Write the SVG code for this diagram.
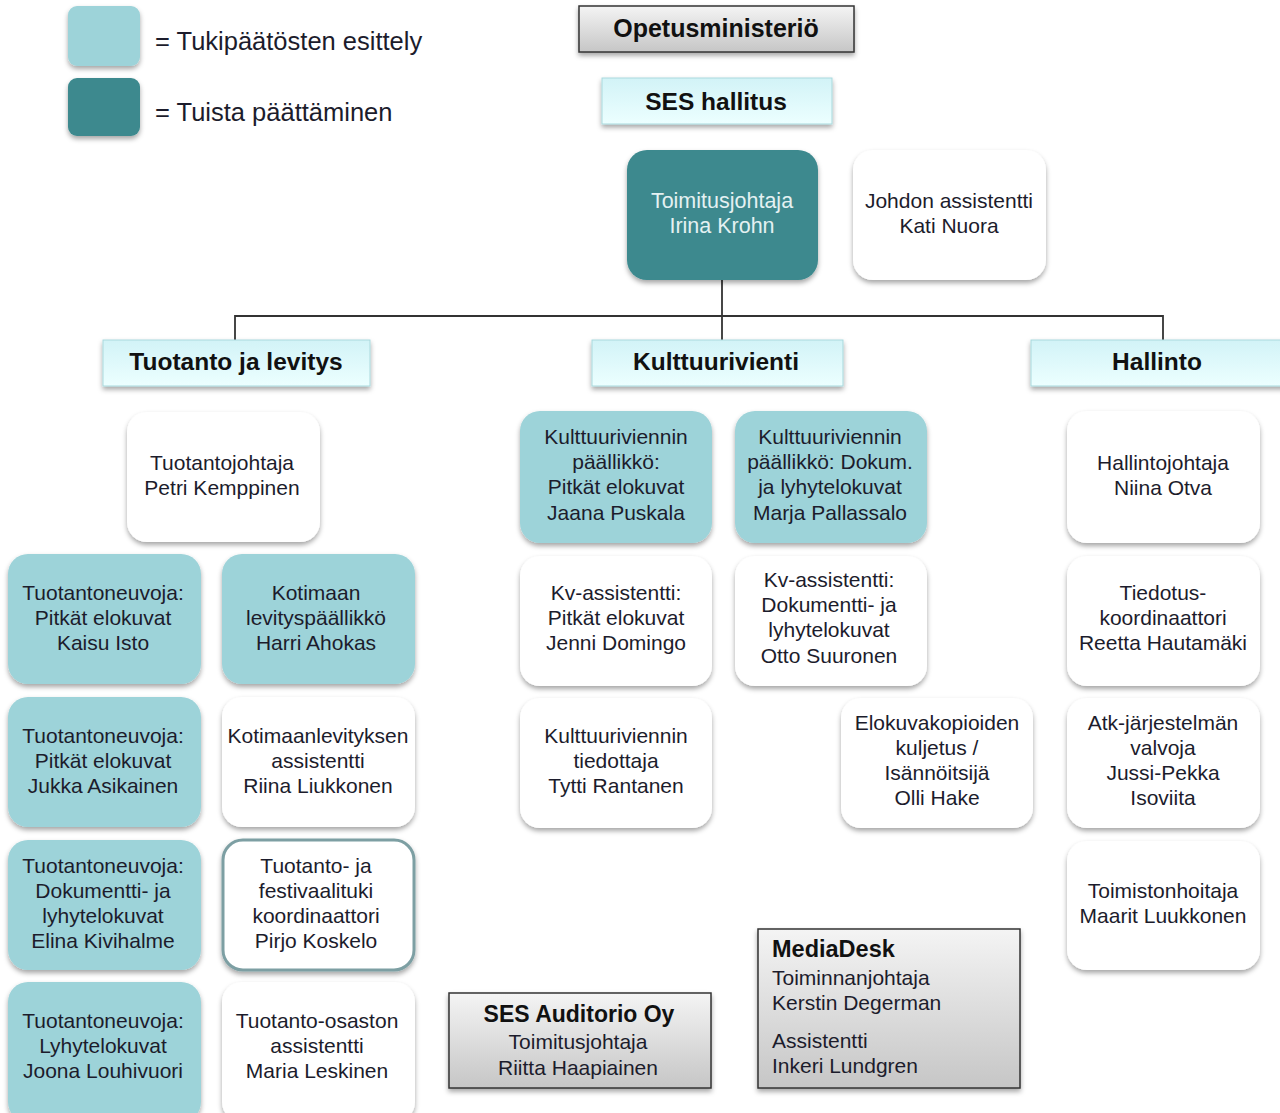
<svg xmlns="http://www.w3.org/2000/svg" width="1280" height="1113" viewBox="0 0 1280 1113">
<defs>
<filter id="sh" x="-10%" y="-10%" width="125%" height="130%">
<feDropShadow dx="0" dy="3" stdDeviation="2.5" flood-color="#000" flood-opacity="0.35"/>
</filter>
<linearGradient id="gray" x1="0" y1="0" x2="0" y2="1">
<stop offset="0" stop-color="#f4f4f4"/>
<stop offset="1" stop-color="#c6c6c6"/>
</linearGradient>
<linearGradient id="cyan" x1="0" y1="0" x2="0" y2="1">
<stop offset="0" stop-color="#d2f3f7"/>
<stop offset="1" stop-color="#ecffff"/>
</linearGradient>
</defs>
<style>
text{font-family:"Liberation Sans",Arial,sans-serif;fill:#1c1c2c}
.t{font-size:21px;text-anchor:middle}
.h{font-size:24.5px;font-weight:bold;text-anchor:middle;fill:#111}
.lg{font-size:25.5px}
.light{fill:#9dd3d9}
.dark{fill:#3c898e}
.white{fill:#fff}
.box{filter:url(#sh)}
.gbox{fill:url(#gray);stroke:#333;stroke-width:1.5}
.cbox{fill:url(#cyan);stroke:#a9d9dd;stroke-width:1}
.inv{fill:#e4f1f2;font-size:21.5px}
.md{font-size:21px}
.conn{fill:none;stroke:#333;stroke-width:1.8}
</style>
<rect width="1280" height="1113" fill="#fff"/>

<g id="legend">
<rect class="box light" x="68" y="6" width="72" height="60" rx="9"/>
<rect class="box dark" x="68" y="78" width="72" height="58" rx="9"/>
<text class="lg" x="155" y="50">= Tukipäätösten esittely</text>
<text class="lg" x="155" y="121">= Tuista päättäminen</text>
</g>

<g id="connectors">
<path class="conn" d="M722 280V316M235 340V316H1163V340M722 316V340"/>
</g>

<g id="opetusministerio">
<rect class="box gbox" x="579" y="6" width="275" height="46"/>
<text class="h" x="716" y="37" style="font-size:25px">Opetusministeriö</text>
</g>
<g id="ses-hallitus">
<rect class="box cbox" x="602" y="78" width="230" height="46"/>
<text class="h" x="716" y="110">SES hallitus</text>
</g>

<g id="toimitusjohtaja">
<rect class="box dark" x="627" y="150" width="191" height="130" rx="20"/>
<text class="t inv" x="722" y="208">Toimitusjohtaja</text>
<text class="t inv" x="722" y="233">Irina Krohn</text>
</g>
<g id="johdon-assistentti">
<rect class="box white" x="853" y="150" width="193" height="130" rx="20"/>
<text class="t" x="949" y="208">Johdon assistentti</text>
<text class="t" x="949" y="233">Kati Nuora</text>
</g>

<g id="tuotanto-ja-levitys">
<rect class="box cbox" x="103" y="340" width="267" height="46"/>
<text class="h" x="236" y="370">Tuotanto ja levitys</text>
</g>
<g id="kulttuurivienti">
<rect class="box cbox" x="592" y="340" width="251" height="46"/>
<text class="h" x="716" y="370">Kulttuurivienti</text>
</g>
<g id="hallinto">
<rect class="box cbox" x="1031" y="340" width="260" height="46"/>
<text class="h" x="1157" y="370">Hallinto</text>
</g>

<g id="tuotantojohtaja">
<rect class="box white" x="127" y="412" width="193" height="130" rx="20"/>
<text class="t" x="222" y="470">Tuotantojohtaja</text>
<text class="t" x="222" y="495">Petri Kemppinen</text>
</g>

<g id="kaisu-isto">
<rect class="box light" x="8" y="554" width="193" height="130" rx="20"/>
<text class="t" x="103" y="600">Tuotantoneuvoja:</text>
<text class="t" x="103" y="625">Pitkät elokuvat</text>
<text class="t" x="103" y="650">Kaisu Isto</text>
</g>
<g id="jukka-asikainen">
<rect class="box light" x="8" y="697" width="193" height="130" rx="20"/>
<text class="t" x="103" y="743">Tuotantoneuvoja:</text>
<text class="t" x="103" y="768">Pitkät elokuvat</text>
<text class="t" x="103" y="793">Jukka Asikainen</text>
</g>
<g id="elina-kivihalme">
<rect class="box light" x="8" y="840" width="193" height="130" rx="20"/>
<text class="t" x="103" y="873">Tuotantoneuvoja:</text>
<text class="t" x="103" y="898">Dokumentti- ja</text>
<text class="t" x="103" y="923">lyhytelokuvat</text>
<text class="t" x="103" y="948">Elina Kivihalme</text>
</g>
<g id="joona-louhivuori">
<rect class="box light" x="8" y="982" width="193" height="140" rx="20"/>
<text class="t" x="103" y="1028">Tuotantoneuvoja:</text>
<text class="t" x="103" y="1053">Lyhytelokuvat</text>
<text class="t" x="103" y="1078">Joona Louhivuori</text>
</g>

<g id="harri-ahokas">
<rect class="box light" x="222" y="554" width="193" height="130" rx="20"/>
<text class="t" x="316" y="600">Kotimaan</text>
<text class="t" x="316" y="625">levityspäällikkö</text>
<text class="t" x="316" y="650">Harri Ahokas</text>
</g>
<g id="riina-liukkonen">
<rect class="box white" x="222" y="697" width="193" height="130" rx="20"/>
<text class="t" x="318" y="743">Kotimaanlevityksen</text>
<text class="t" x="318" y="768">assistentti</text>
<text class="t" x="318" y="793">Riina Liukkonen</text>
</g>
<g id="pirjo-koskelo">
<rect class="box white" x="223" y="840" width="191" height="130" rx="20" stroke="#7d9fa3" stroke-width="3"/>
<text class="t" x="316" y="873">Tuotanto- ja</text>
<text class="t" x="316" y="898">festivaalituki</text>
<text class="t" x="316" y="923">koordinaattori</text>
<text class="t" x="316" y="948">Pirjo Koskelo</text>
</g>
<g id="maria-leskinen">
<rect class="box white" x="222" y="982" width="193" height="140" rx="20"/>
<text class="t" x="317" y="1028">Tuotanto-osaston</text>
<text class="t" x="317" y="1053">assistentti</text>
<text class="t" x="317" y="1078">Maria Leskinen</text>
</g>

<g id="jaana-puskala">
<rect class="box light" x="520" y="411" width="192" height="132" rx="20"/>
<text class="t" x="616" y="444">Kulttuuriviennin</text>
<text class="t" x="616" y="469">päällikkö:</text>
<text class="t" x="616" y="494">Pitkät elokuvat</text>
<text class="t" x="616" y="520">Jaana Puskala</text>
</g>
<g id="marja-pallassalo">
<rect class="box light" x="735" y="411" width="192" height="132" rx="20"/>
<text class="t" x="830" y="444">Kulttuuriviennin</text>
<text class="t" x="830" y="469">päällikkö: Dokum.</text>
<text class="t" x="830" y="494">ja lyhytelokuvat</text>
<text class="t" x="830" y="520">Marja Pallassalo</text>
</g>
<g id="jenni-domingo">
<rect class="box white" x="520" y="556" width="192" height="130" rx="20"/>
<text class="t" x="616" y="600">Kv-assistentti:</text>
<text class="t" x="616" y="625">Pitkät elokuvat</text>
<text class="t" x="616" y="650">Jenni Domingo</text>
</g>
<g id="otto-suuronen">
<rect class="box white" x="735" y="556" width="192" height="130" rx="20"/>
<text class="t" x="829" y="587">Kv-assistentti:</text>
<text class="t" x="829" y="612">Dokumentti- ja</text>
<text class="t" x="829" y="637">lyhytelokuvat</text>
<text class="t" x="829" y="663">Otto Suuronen</text>
</g>
<g id="tytti-rantanen">
<rect class="box white" x="520" y="698" width="192" height="130" rx="20"/>
<text class="t" x="616" y="743">Kulttuuriviennin</text>
<text class="t" x="616" y="768">tiedottaja</text>
<text class="t" x="616" y="793">Tytti Rantanen</text>
</g>
<g id="olli-hake">
<rect class="box white" x="841" y="698" width="192" height="130" rx="20"/>
<text class="t" x="937" y="730">Elokuvakopioiden</text>
<text class="t" x="937" y="755">kuljetus /</text>
<text class="t" x="937" y="780">Isännöitsijä</text>
<text class="t" x="937" y="805">Olli Hake</text>
</g>

<g id="niina-otva">
<rect class="box white" x="1067" y="411" width="193" height="132" rx="20"/>
<text class="t" x="1163" y="470">Hallintojohtaja</text>
<text class="t" x="1163" y="495">Niina Otva</text>
</g>
<g id="reetta-hautamaki">
<rect class="box white" x="1067" y="556" width="193" height="130" rx="20"/>
<text class="t" x="1163" y="600">Tiedotus-</text>
<text class="t" x="1163" y="625">koordinaattori</text>
<text class="t" x="1163" y="650">Reetta Hautamäki</text>
</g>
<g id="jussi-pekka-isoviita">
<rect class="box white" x="1067" y="698" width="193" height="130" rx="20"/>
<text class="t" x="1163" y="730">Atk-järjestelmän</text>
<text class="t" x="1163" y="755">valvoja</text>
<text class="t" x="1163" y="780">Jussi-Pekka</text>
<text class="t" x="1163" y="805">Isoviita</text>
</g>
<g id="maarit-luukkonen">
<rect class="box white" x="1067" y="841" width="193" height="129" rx="20"/>
<text class="t" x="1163" y="898">Toimistonhoitaja</text>
<text class="t" x="1163" y="923">Maarit Luukkonen</text>
</g>

<g id="ses-auditorio">
<rect class="box gbox" x="449" y="993" width="262" height="95"/>
<text class="h" x="579" y="1022" style="font-size:23px">SES Auditorio Oy</text>
<text class="t" x="578" y="1049">Toimitusjohtaja</text>
<text class="t" x="578" y="1075">Riitta Haapiainen</text>
</g>
<g id="mediadesk">
<rect class="box gbox" x="758" y="929" width="262" height="159"/>
<text x="772" y="957" style="font-size:23.5px;font-weight:bold;fill:#111">MediaDesk</text>
<text class="md" x="772" y="985">Toiminnanjohtaja</text>
<text class="md" x="772" y="1010">Kerstin Degerman</text>
<text class="md" x="772" y="1048">Assistentti</text>
<text class="md" x="772" y="1073">Inkeri Lundgren</text>
</g>
</svg>
